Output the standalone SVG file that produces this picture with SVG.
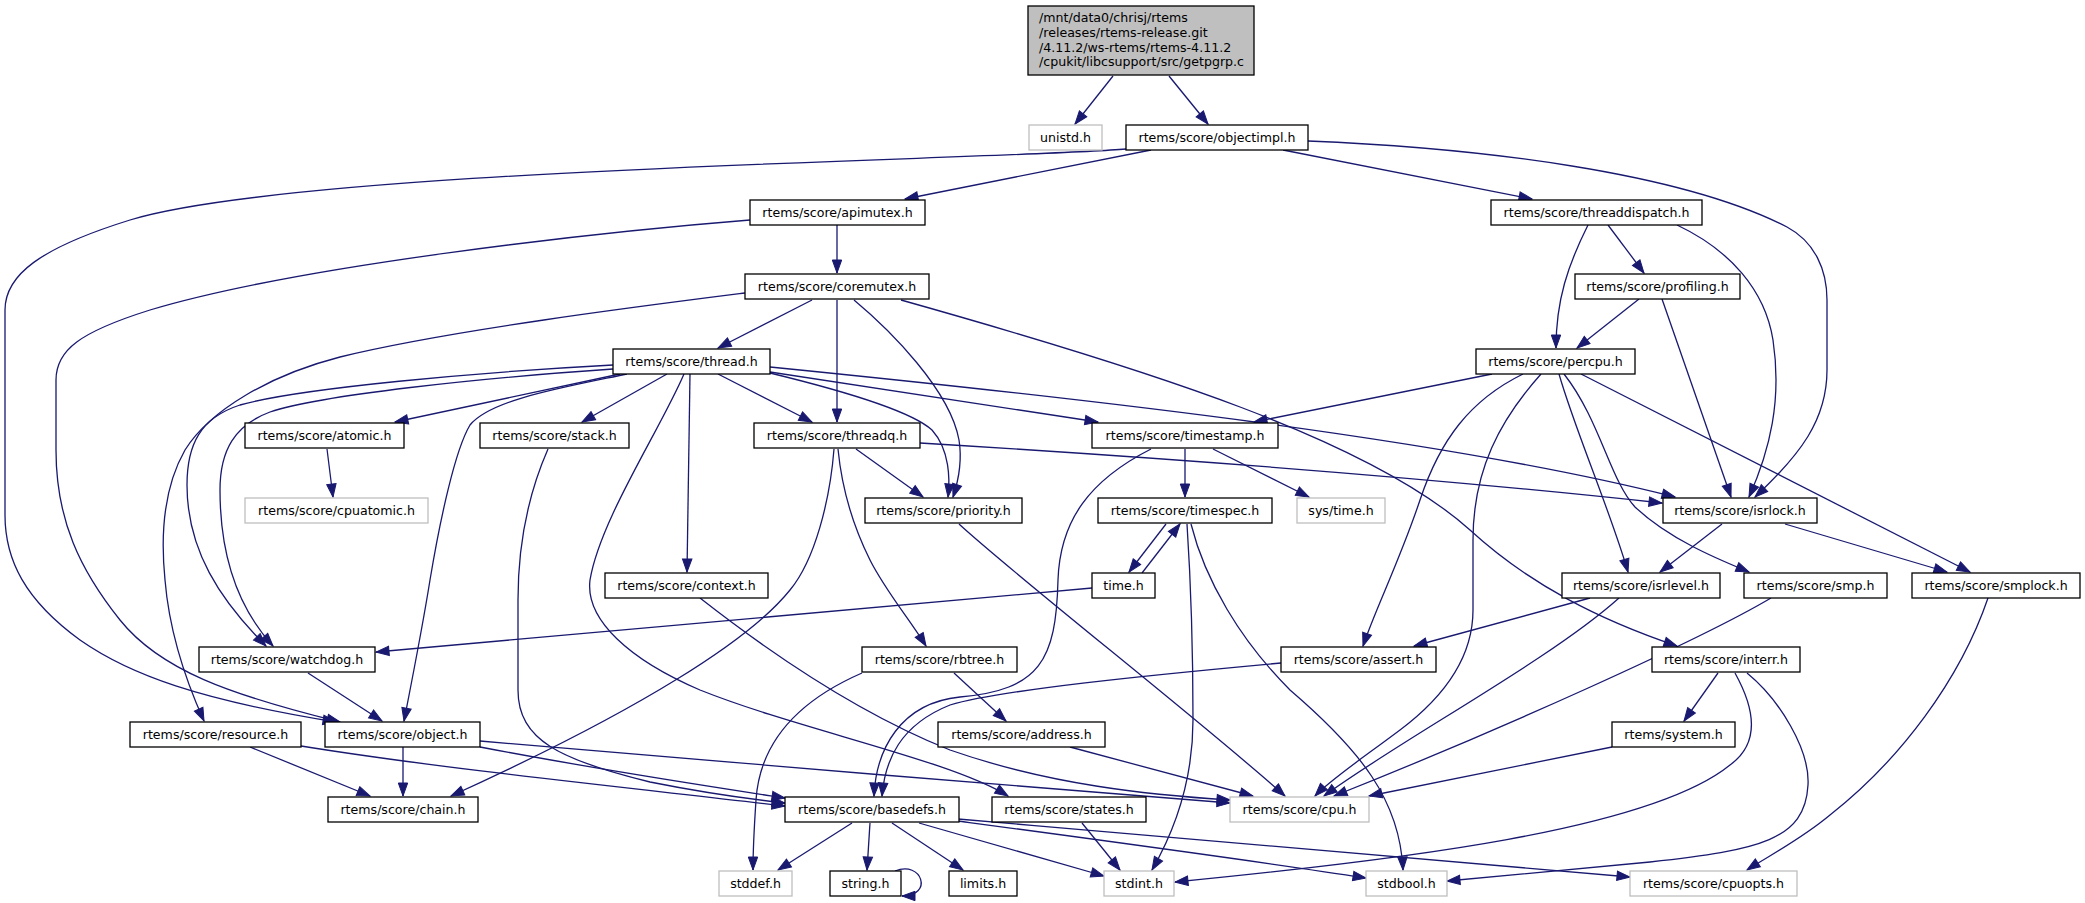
<svg xmlns="http://www.w3.org/2000/svg" width="2085" height="903" viewBox="0 0 2085 903">
<style>
.node rect{fill:#fff;stroke:#000;stroke-width:1.3}
.node.ext rect{stroke:#bfbfbf}
.node.root rect{fill:#bfbfbf}
text{font-family:"DejaVu Sans","Liberation Sans",sans-serif;font-size:12.6px;fill:#000;text-anchor:middle}
.node.root text{text-anchor:start}
#edges path{fill:none;stroke:#191970;stroke-width:1.3;marker-end:url(#arr)}
</style>
<defs>
<marker id="arr" markerUnits="userSpaceOnUse" markerWidth="16" markerHeight="12" refX="13" refY="5" orient="auto" overflow="visible">
<path d="M0,0.3 L13,5 L0,9.7 z" fill="#191970" stroke="#191970" stroke-width="1"/>
</marker>
</defs>
<rect width="2085" height="903" fill="#fff"/>
<g id="edges">
<path d="M1113,76 L1075,124"/>
<path d="M1169,76 L1208,124"/>
<path d="M1126,149 C1000,160 300,168 130,220 C40,248 5,275 5,310 L5,515 C5,560 25,600 80,640 C130,675 200,700 336,722"/>
<path d="M1151,150 L905,199"/>
<path d="M1283,150 L1532,199"/>
<path d="M1308,141 C1480,148 1680,172 1787,227 C1815,242 1827,270 1827,300 L1827,370 C1827,420 1800,455 1755,497"/>
<path d="M837,225 L837,273"/>
<path d="M750,220 C600,232 300,265 150,310 C80,332 56,350 56,380 L56,450 C56,520 80,570 120,620 C160,670 230,695 340,722"/>
<path d="M812,300 L718,348"/>
<path d="M837,300 L837,422"/>
<path d="M854,300 C890,330 950,390 959,440 C963,465 957,485 953,497"/>
<path d="M745,293 C650,305 450,330 340,357 C270,375 210,410 185,450 C165,485 160,530 165,580 C170,640 190,690 204,721"/>
<path d="M613,365 C480,372 300,388 240,405 C200,418 187,445 187,485 C187,550 220,600 266,646"/>
<path d="M613,369 C480,378 320,395 270,412 C235,425 220,450 220,490 C220,560 240,610 273,646"/>
<path d="M620,374 L395,422"/>
<path d="M667,374 L582,422"/>
<path d="M627,374 C560,388 490,400 470,425 C455,450 440,520 430,580 C422,630 412,680 404,721"/>
<path d="M684,374 C660,430 600,520 590,580 C585,620 630,660 700,690 C800,730 950,760 1008,796"/>
<path d="M690,374 L687,572"/>
<path d="M718,374 L812,422"/>
<path d="M770,373 C840,390 910,410 932,430 C950,450 950,480 948,497"/>
<path d="M770,372 L1098,422"/>
<path d="M770,367 C1100,400 1450,440 1675,497"/>
<path d="M920,443 C1200,460 1450,480 1662,503"/>
<path d="M856,449 L923,497"/>
<path d="M838,449 C842,490 855,530 870,560 C885,590 910,620 926,646"/>
<path d="M834,449 C830,500 815,560 790,590 C750,640 640,710 451,796"/>
<path d="M1185,449 L1185,497"/>
<path d="M1213,449 L1309,497"/>
<path d="M1151,449 C1090,480 1060,520 1058,580 C1056,660 1040,690 960,697 C900,703 876,750 874,796"/>
<path d="M1281,663 C1150,675 1000,690 950,705 C900,725 885,760 882,796"/>
<path d="M548,449 C530,490 518,540 518,600 L518,690 C518,740 560,760 650,782 C700,792 740,798 785,803"/>
<path d="M250,747 L370,796"/>
<path d="M301,746 C450,770 650,790 785,806"/>
<path d="M403,747 L403,796"/>
<path d="M480,747 C600,770 700,785 785,798"/>
<path d="M480,741 C700,760 1000,785 1230,803"/>
<path d="M308,673 L382,721"/>
<path d="M1092,588 L376,652"/>
<path d="M1166,524 L1129,572"/>
<path d="M1142,573 L1180,524"/>
<path d="M1187,524 C1190,570 1193,650 1193,720 C1193,780 1175,830 1152,870"/>
<path d="M1191,524 C1205,580 1240,640 1290,690 C1360,750 1400,800 1403,870"/>
<path d="M959,524 C1020,580 1200,720 1285,796"/>
<path d="M700,598 C760,645 850,710 950,750 C1050,785 1150,795 1230,800"/>
<path d="M1070,747 L1253,796"/>
<path d="M954,673 L1006,721"/>
<path d="M862,673 C800,700 760,740 756,800 C754,830 753,850 753,870"/>
<path d="M1082,823 L1120,870"/>
<path d="M852,823 L778,870"/>
<path d="M870,823 L867,870"/>
<path d="M892,823 L963,870"/>
<path d="M919,823 L1104,876"/>
<path d="M958,821 C1100,840 1250,860 1366,878"/>
<path d="M958,819 C1200,840 1450,860 1630,877"/>
<path d="M895,871 C922,860 934,896 902,896"/>
<path d="M1492,374 L1254,422"/>
<path d="M1523,374 C1470,400 1440,440 1420,500 C1400,560 1375,610 1363,646"/>
<path d="M1541,374 C1500,420 1473,470 1473,540 L1473,610 C1473,660 1440,700 1400,730 C1360,760 1330,780 1315,796"/>
<path d="M1559,374 C1575,430 1610,510 1628,572"/>
<path d="M1564,374 C1600,420 1610,480 1635,507 C1670,540 1720,560 1749,572"/>
<path d="M1581,374 L1970,572"/>
<path d="M1722,524 L1660,572"/>
<path d="M1785,524 L1947,572"/>
<path d="M1590,598 L1414,646"/>
<path d="M1619,598 C1550,660 1400,740 1324,796"/>
<path d="M1771,598 C1700,640 1500,730 1334,796"/>
<path d="M1612,747 C1500,770 1420,785 1369,796"/>
<path d="M1988,598 C1960,680 1900,760 1830,815 C1800,840 1770,855 1747,870"/>
<path d="M1718,673 L1684,721"/>
<path d="M1735,673 C1750,700 1765,740 1730,765 C1650,830 1400,860 1175,882"/>
<path d="M1747,673 C1780,700 1810,750 1808,785 C1805,840 1760,850 1650,862 C1550,872 1480,878 1447,881"/>
<path d="M901,300 C1150,370 1370,440 1470,530 C1530,585 1600,620 1677,646"/>
<path d="M1588,225 C1568,265 1556,300 1556,348"/>
<path d="M1608,225 L1644,273"/>
<path d="M1677,225 C1730,250 1765,290 1773,340 C1782,400 1770,450 1749,497"/>
<path d="M1639,299 L1577,348"/>
<path d="M1662,299 L1731,497"/>
<path d="M327,449 L333,497"/>
</g>
<g id="getpgrp" class="node root"><rect x="1028" y="6" width="226" height="69"/><text x="1039" y="22">/mnt/data0/chrisj/rtems</text><text x="1039" y="36.8">/releases/rtems-release.git</text><text x="1039" y="51.6">/4.11.2/ws-rtems/rtems-4.11.2</text><text x="1039" y="66.4">/cpukit/libcsupport/src/getpgrp.c</text></g>
<g id="unistd" class="node ext"><rect x="1029" y="125" width="73" height="25"/><text x="1065.5" y="142">unistd.h</text></g>
<g id="objectimpl" class="node"><rect x="1126" y="125" width="182" height="25"/><text x="1217" y="142">rtems/score/objectimpl.h</text></g>
<g id="apimutex" class="node"><rect x="750" y="200" width="175" height="25"/><text x="837.5" y="217">rtems/score/apimutex.h</text></g>
<g id="threaddispatch" class="node"><rect x="1491" y="200" width="211" height="25"/><text x="1596.5" y="217">rtems/score/threaddispatch.h</text></g>
<g id="coremutex" class="node"><rect x="745" y="274" width="184" height="25"/><text x="837" y="291">rtems/score/coremutex.h</text></g>
<g id="profiling" class="node"><rect x="1575" y="274" width="165" height="25"/><text x="1657.5" y="291">rtems/score/profiling.h</text></g>
<g id="thread" class="node"><rect x="613" y="349" width="157" height="25"/><text x="691.5" y="366">rtems/score/thread.h</text></g>
<g id="percpu" class="node"><rect x="1476" y="349" width="159" height="25"/><text x="1555.5" y="366">rtems/score/percpu.h</text></g>
<g id="atomic" class="node"><rect x="245" y="423" width="159" height="25"/><text x="324.5" y="440">rtems/score/atomic.h</text></g>
<g id="stack" class="node"><rect x="480" y="423" width="149" height="25"/><text x="554.5" y="440">rtems/score/stack.h</text></g>
<g id="threadq" class="node"><rect x="754" y="423" width="166" height="25"/><text x="837" y="440">rtems/score/threadq.h</text></g>
<g id="timestamp" class="node"><rect x="1092" y="423" width="186" height="25"/><text x="1185" y="440">rtems/score/timestamp.h</text></g>
<g id="cpuatomic" class="node ext"><rect x="245" y="498" width="183" height="25"/><text x="336.5" y="515">rtems/score/cpuatomic.h</text></g>
<g id="priority" class="node"><rect x="865" y="498" width="157" height="25"/><text x="943.5" y="515">rtems/score/priority.h</text></g>
<g id="timespec" class="node"><rect x="1098" y="498" width="174" height="25"/><text x="1185" y="515">rtems/score/timespec.h</text></g>
<g id="systime" class="node ext"><rect x="1297" y="498" width="88" height="25"/><text x="1341" y="515">sys/time.h</text></g>
<g id="isrlock" class="node"><rect x="1663" y="498" width="154" height="25"/><text x="1740" y="515">rtems/score/isrlock.h</text></g>
<g id="context" class="node"><rect x="605" y="573" width="163" height="25"/><text x="686.5" y="590">rtems/score/context.h</text></g>
<g id="time" class="node"><rect x="1092" y="573" width="63" height="25"/><text x="1123.5" y="590">time.h</text></g>
<g id="isrlevel" class="node"><rect x="1562" y="573" width="158" height="25"/><text x="1641" y="590">rtems/score/isrlevel.h</text></g>
<g id="smp" class="node"><rect x="1744" y="573" width="143" height="25"/><text x="1815.5" y="590">rtems/score/smp.h</text></g>
<g id="smplock" class="node"><rect x="1912" y="573" width="168" height="25"/><text x="1996" y="590">rtems/score/smplock.h</text></g>
<g id="watchdog" class="node"><rect x="199" y="647" width="176" height="25"/><text x="287" y="664">rtems/score/watchdog.h</text></g>
<g id="rbtree" class="node"><rect x="862" y="647" width="155" height="25"/><text x="939.5" y="664">rtems/score/rbtree.h</text></g>
<g id="assert" class="node"><rect x="1281" y="647" width="155" height="25"/><text x="1358.5" y="664">rtems/score/assert.h</text></g>
<g id="interr" class="node"><rect x="1652" y="647" width="148" height="25"/><text x="1726" y="664">rtems/score/interr.h</text></g>
<g id="resource" class="node"><rect x="130" y="722" width="171" height="25"/><text x="215.5" y="739">rtems/score/resource.h</text></g>
<g id="object" class="node"><rect x="325" y="722" width="155" height="25"/><text x="402.5" y="739">rtems/score/object.h</text></g>
<g id="address" class="node"><rect x="938" y="722" width="167" height="25"/><text x="1021.5" y="739">rtems/score/address.h</text></g>
<g id="system" class="node"><rect x="1612" y="722" width="123" height="25"/><text x="1673.5" y="739">rtems/system.h</text></g>
<g id="chain" class="node"><rect x="328" y="797" width="150" height="25"/><text x="403" y="814">rtems/score/chain.h</text></g>
<g id="basedefs" class="node"><rect x="785" y="797" width="174" height="25"/><text x="872" y="814">rtems/score/basedefs.h</text></g>
<g id="states" class="node"><rect x="992" y="797" width="154" height="25"/><text x="1069" y="814">rtems/score/states.h</text></g>
<g id="cpu" class="node ext"><rect x="1230" y="797" width="139" height="25"/><text x="1299.5" y="814">rtems/score/cpu.h</text></g>
<g id="stddef" class="node ext"><rect x="719" y="871" width="73" height="25"/><text x="755.5" y="888">stddef.h</text></g>
<g id="string" class="node"><rect x="830" y="871" width="71" height="25"/><text x="865.5" y="888">string.h</text></g>
<g id="limits" class="node"><rect x="949" y="871" width="68" height="25"/><text x="983" y="888">limits.h</text></g>
<g id="stdint" class="node ext"><rect x="1104" y="871" width="70" height="25"/><text x="1139" y="888">stdint.h</text></g>
<g id="stdbool" class="node ext"><rect x="1366" y="871" width="81" height="25"/><text x="1406.5" y="888">stdbool.h</text></g>
<g id="cpuopts" class="node ext"><rect x="1630" y="871" width="167" height="25"/><text x="1713.5" y="888">rtems/score/cpuopts.h</text></g>
</svg>
